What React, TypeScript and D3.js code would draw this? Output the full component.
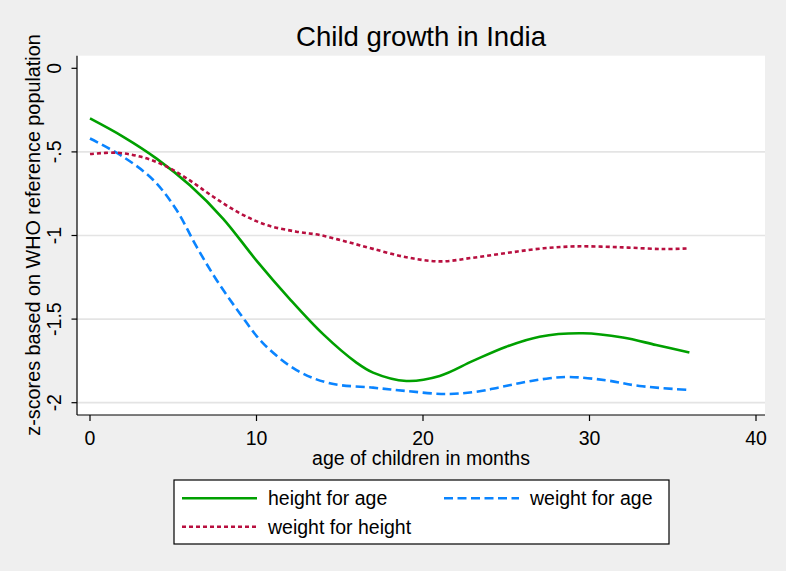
import React from "react";
import * as d3 from "d3";

const hfaMonths = [0, 2, 4, 6, 8, 10, 12, 14, 16, 17, 19, 21, 23, 25, 27, 29.6, 32, 34, 36];
const hfaValues = [-0.30, -0.41, -0.54, -0.70, -0.90, -1.15, -1.38, -1.59, -1.76, -1.82, -1.87, -1.84, -1.75, -1.665, -1.605, -1.585, -1.61, -1.655, -1.70];

const wfaMonths = [0, 2, 3.8, 5.2, 6.4, 7.6, 9, 10.4, 12.4, 14.4, 17, 19, 21.4, 23.4, 24.5, 25.5, 26.5, 27.6, 28.8, 31, 33, 36];
const wfaValues = [-0.42, -0.53, -0.668, -0.848, -1.067, -1.266, -1.466, -1.645, -1.805, -1.884, -1.91, -1.93, -1.948, -1.932, -1.91, -1.889, -1.87, -1.854, -1.846, -1.866, -1.90, -1.924];

const wfhMonths = [0, 1.6, 3, 4.4, 5.8, 7.4, 9, 10.6, 12.4, 13.8, 15.4, 17, 19, 21, 23, 25, 27, 29.2, 32, 34.4, 36];
const wfhValues = [-0.513, -0.505, -0.528, -0.578, -0.658, -0.768, -0.867, -0.937, -0.977, -0.997, -1.037, -1.08, -1.13, -1.155, -1.133, -1.105, -1.079, -1.065, -1.071, -1.081, -1.077];

const xTicks = [0, 10, 20, 30, 40];
const yTicks = [0, -0.5, -1, -1.5, -2];
const yTickLabels = ["0", "-.5", "-1", "-1.5", "-2"];

const seriesNames = ["height for age", "weight for age", "weight for height"];

const FONT = "Arial, 'Liberation Sans', Helvetica, sans-serif";

export default function App() {
  const W = 786, H = 571;
  const x = d3.scaleLinear().domain([0, 40]).range([90, 756]);
  const y = d3.scaleLinear().domain([0, -2]).range([68.3, 402.7]);
  const left = 77, right = 765, top = 55.7, bottom = 415;

  const line = d3
    .line<[number, number]>()
    .x((d) => x(d[0]))
    .y((d) => y(d[1]))
    .curve(d3.curveCatmullRom.alpha(0.5));

  const zip = (a: number[], b: number[]) => a.map((m, i) => [m, b[i]] as [number, number]);

  const series = [
    { name: seriesNames[0], d: zip(hfaMonths, hfaValues), color: "#00a000", dash: null as string | null },
    { name: seriesNames[1], d: zip(wfaMonths, wfaValues), color: "#0a84ff", dash: "9,4.5" },
    { name: seriesNames[2], d: zip(wfhMonths, wfhValues), color: "#b80f3f", dash: "4,3" },
  ];

  const legendItems = [
    { s: series[0], lx: 182, ly: 498.3 },
    { s: series[1], lx: 444, ly: 498.3 },
    { s: series[2], lx: 182, ly: 526.7 },
  ];

  return (
    <svg
      width={W}
      height={H}
      style={{ position: "absolute", left: 0, top: 0, display: "block" }}
      fontFamily={FONT}
    >
      <rect x={0} y={0} width={W} height={H} fill="#efefef" />
      <rect x={left} y={top} width={right - left} height={bottom - top} fill="#ffffff" />

      {yTicks.filter((t) => t !== 0).map((t) => (
        <line key={"g" + t} x1={left} x2={right} y1={y(t)} y2={y(t)} stroke="#e4e4e4" strokeWidth={1.7} />
      ))}

      {series.map((s) => (
        <path
          key={s.name}
          d={line(s.d) || ""}
          fill="none"
          stroke={s.color}
          strokeWidth={2.6}
          strokeDasharray={s.dash || undefined}
        />
      ))}

      <line x1={left} x2={left} y1={top} y2={bottom} stroke="#000" strokeWidth={1.2} />
      <line x1={left} x2={right} y1={bottom} y2={bottom} stroke="#000" strokeWidth={1.2} />

      {yTicks.map((t, i) => (
        <g key={"yt" + t}>
          <line x1={left - 5.5} x2={left} y1={y(t)} y2={y(t)} stroke="#000" strokeWidth={1.2} />
          <text
            transform={`translate(${61},${y(t)}) rotate(-90)`}
            textAnchor="middle"
            fontSize={19.5}
            fill="#000"
          >
            {yTickLabels[i]}
          </text>
        </g>
      ))}

      {xTicks.map((t) => (
        <g key={"xt" + t}>
          <line x1={x(t)} x2={x(t)} y1={bottom} y2={bottom + 6} stroke="#000" strokeWidth={1.2} />
          <text x={x(t)} y={445} textAnchor="middle" fontSize={19.5} fill="#000">
            {t}
          </text>
        </g>
      ))}

      <text x={421} y={465} textAnchor="middle" fontSize={19.5} fill="#000">
        age of children in months
      </text>
      <text transform={`translate(40,235) rotate(-90)`} textAnchor="middle" fontSize={19.8} fill="#000">
        z-scores based on WHO reference population
      </text>

      <text x={421} y={46} textAnchor="middle" fontSize={27.6} fill="#000">
        Child growth in India
      </text>

      <rect x={174} y={480} width={495} height={64} fill="#ffffff" stroke="#000" strokeWidth={1.2} />
      {legendItems.map(({ s, lx, ly }) => (
        <g key={"lg" + s.name}>
          <line
            x1={lx}
            x2={lx + 75}
            y1={ly}
            y2={ly}
            stroke={s.color}
            strokeWidth={2.6}
            strokeDasharray={s.dash || undefined}
          />
          <text x={lx + 86} y={ly + 7} fontSize={19.5} fill="#000">
            {s.name}
          </text>
        </g>
      ))}
    </svg>
  );
}
